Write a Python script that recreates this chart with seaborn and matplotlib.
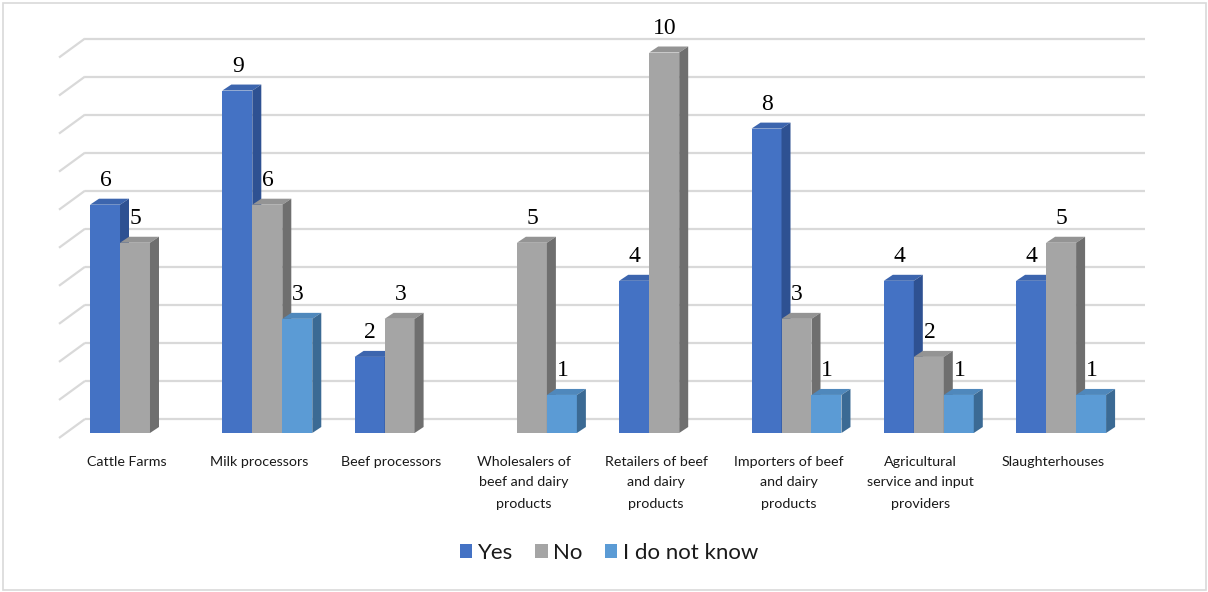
import numpy as np
import pandas as pd
import matplotlib
matplotlib.use("Agg")
import matplotlib.pyplot as plt
from matplotlib.patches import Polygon, Rectangle
import seaborn as sns

# ---- data -------------------------------------------------------------
categories = [
    "Cattle Farms",
    "Milk processors",
    "Beef processors",
    "Wholesalers of\nbeef and dairy\nproducts",
    "Retailers of beef\nand dairy\nproducts",
    "Importers of beef\nand dairy\nproducts",
    "Agricultural\nservice and input\nproviders",
    "Slaughterhouses",
]
responses = ["Yes", "No", "I do not know"]
yes_counts = [6, 9, 2, 0, 4, 8, 4, 4]
no_counts = [5, 6, 3, 5, 10, 3, 2, 5]
unknown_counts = [0, 3, 0, 1, 0, 1, 1, 1]

front_colors = ["#4472C4", "#A5A5A5", "#5B9BD5"]
top_colors = ["#3C65AE", "#949494", "#4F88BC"]
side_colors = ["#2E5192", "#6F6F6F", "#3B6A94"]

df = pd.DataFrame({
    "category": np.repeat(categories, 3),
    "response": responses * len(categories),
    "count": np.column_stack([yes_counts, no_counts, unknown_counts]).ravel(),
})

# ---- layout (pixels) --------------------------------------------------
W, H, DPI = 1208, 592, 100
ax_left_px, ax_right_px = 59, 1145
base_px = 433            # front edge of the floor, from the top
px_per_unit = 38.05      # vertical pixels per count
px_per_cat = 132.3       # horizontal pixels between category centres
first_center_px = 135
y_max = 10.8

sns.set_theme(style="white")
plt.rcParams["font.family"] = ["Lato", "DejaVu Sans"]

fig = plt.figure(figsize=(W / DPI, H / DPI), dpi=DPI)
ax = fig.add_axes([ax_left_px / W, (H - base_px) / H,
                   (ax_right_px - ax_left_px) / W, y_max * px_per_unit / H])

sns.barplot(data=df, x="category", y="count", hue="response",
            order=categories, hue_order=responses, palette=front_colors,
            saturation=1, width=0.68, linewidth=0, errorbar=None,
            legend=False, ax=ax)

xlim = ((ax_left_px - first_center_px) / px_per_cat,
        (ax_right_px - first_center_px) / px_per_cat)
ax.set_xlim(*xlim)
ax.set_ylim(0, y_max)

dxu = 1 / px_per_cat     # one pixel in x data units
dyu = 1 / px_per_unit    # one pixel in y data units

def x_at(px):
    return xlim[0] + (px - ax_left_px) * dxu

# ---- back wall gridlines with the left side wall ---------------------
grid_kw = dict(color="#d9d9d9", lw=1.6, zorder=0.5, clip_on=False,
               solid_capstyle="butt")
for v in range(11):
    y_back = v + 14 * dyu
    ax.plot([x_at(85), xlim[1]], [y_back, y_back], **grid_kw)
    ax.plot([xlim[0], x_at(85)], [v - 5 * dyu, y_back], **grid_kw)

# ---- 3-D faces and value labels --------------------------------------
depth_x, depth_y = 9 * dxu, 6 * dyu
for i, container in enumerate(ax.containers):
    for rect in container:
        h = rect.get_height()
        if h <= 0:
            rect.set_visible(False)
            continue
        x0, w = rect.get_x(), rect.get_width()
        z = 2 + x0
        rect.set_zorder(z)
        top = Polygon([(x0, h), (x0 + w, h), (x0 + w + depth_x, h + depth_y),
                       (x0 + depth_x, h + depth_y)], closed=True,
                      facecolor=top_colors[i], edgecolor="none", zorder=z)
        side = Polygon([(x0 + w, 0), (x0 + w + depth_x, depth_y),
                        (x0 + w + depth_x, h + depth_y), (x0 + w, h)],
                       closed=True, facecolor=side_colors[i],
                       edgecolor="none", zorder=z)
        ax.add_patch(top)
        ax.add_patch(side)
        ax.annotate(f"{int(h)}", xy=(x0 + w / 2, h), xytext=(0.5, 19 * 0.72),
                    textcoords="offset points", ha="center", va="baseline",
                    fontsize=17, family="Liberation Serif", color="black",
                    zorder=100, annotation_clip=False)

# ---- category labels --------------------------------------------------
for k, lab in enumerate(categories):
    ax.annotate(lab, xy=(k, 0), xytext=(-8 * 0.72, -22.5 * 0.72),
                textcoords="offset points", ha="center", va="top",
                fontsize=10.3, linespacing=1.9, color="#1a1a1a",
                annotation_clip=False)

ax.set_xticks([])
ax.set_yticks([])
ax.set_xlabel("")
ax.set_ylabel("")
for s in ax.spines.values():
    s.set_visible(False)
ax.patch.set_alpha(0)

# ---- legend -----------------------------------------------------------
handles = [Rectangle((0, 0), 1, 1, facecolor=c, edgecolor="none")
           for c in front_colors]
fig.legend(handles, responses, loc="center", bbox_to_anchor=(609 / W, 1 - 553 / H),
           ncol=3, frameon=False, fontsize=16, handlelength=0.55,
           handleheight=0.55, handletextpad=0.25, columnspacing=1.0,
           labelcolor="#1a1a1a")

# ---- chart border -----------------------------------------------------
fig.patches.append(Rectangle((2.5 / W, 2.5 / H), 1 - 5 / W, 1 - 5 / H,
                             transform=fig.transFigure, fill=False,
                             edgecolor="#d9d9d9", lw=1.2))

fig.savefig("out.png", dpi=DPI)
